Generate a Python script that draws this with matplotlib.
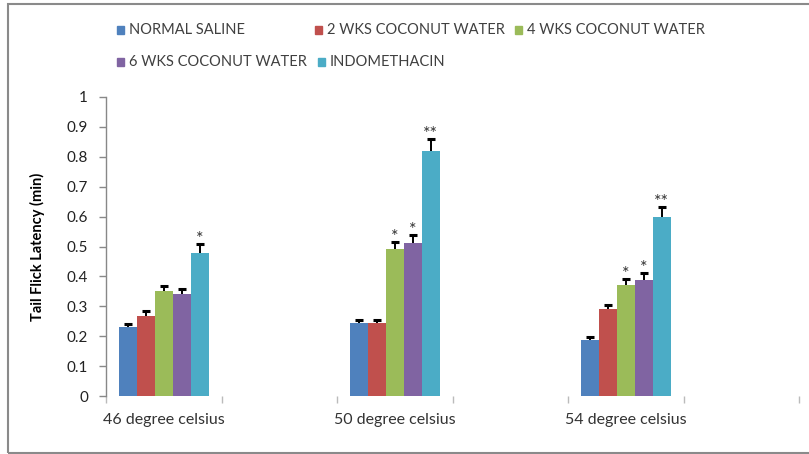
import matplotlib
matplotlib.use("Agg")
import matplotlib.pyplot as plt
from matplotlib.patches import Rectangle
import numpy as np

plt.rcParams['font.family'] = ['Lato', 'DejaVu Sans']

# Six slots on the category axis; only every other one carries a group of bars
categories = ["46 degree celsius", "", "50 degree celsius", "", "54 degree celsius", ""]
group_slots = [0, 2, 4]

series_names = ["NORMAL SALINE", "2 WKS COCONUT WATER", "4 WKS COCONUT WATER",
                "6 WKS COCONUT WATER", "INDOMETHACIN"]
series_colors = ["#4F81BD", "#C0504D", "#9BBB59", "#8064A2", "#4BACC6"]

normal_saline = [0.230, 0.243, 0.187]
wks2_coconut = [0.268, 0.243, 0.290]
wks4_coconut = [0.350, 0.490, 0.370]
wks6_coconut = [0.341, 0.512, 0.388]
indomethacin = [0.478, 0.819, 0.598]

normal_saline_err = [0.010, 0.011, 0.010]
wks2_coconut_err = [0.016, 0.011, 0.014]
wks4_coconut_err = [0.019, 0.025, 0.022]
wks6_coconut_err = [0.016, 0.026, 0.022]
indomethacin_err = [0.029, 0.041, 0.035]

# Significance marks per series and group
normal_saline_sig = ["", "", ""]
wks2_coconut_sig = ["", "", ""]
wks4_coconut_sig = ["", "*", "*"]
wks6_coconut_sig = ["", "*", "*"]
indomethacin_sig = ["*", "**", "**"]

y_ticks = [0, 0.1, 0.2, 0.3, 0.4, 0.5, 0.6, 0.7, 0.8, 0.9, 1]
y_tick_labels = ["0", "0.1", "0.2", "0.3", "0.4", "0.5", "0.6", "0.7", "0.8", "0.9", "1"]

values = [normal_saline, wks2_coconut, wks4_coconut, wks6_coconut, indomethacin]
errors = [normal_saline_err, wks2_coconut_err, wks4_coconut_err, wks6_coconut_err, indomethacin_err]
sigs = [normal_saline_sig, wks2_coconut_sig, wks4_coconut_sig, wks6_coconut_sig, indomethacin_sig]

W, H = 809, 454
fig = plt.figure(figsize=(W / 100, H / 100), dpi=100)
ax = fig.add_axes([106 / W, 1 - 396 / H, (799 - 106) / W, (396 - 97) / H])

bar_w = 0.155
slots = np.array(group_slots, dtype=float)
for i, (vals, errs, marks, color) in enumerate(zip(values, errors, sigs, series_colors)):
    x = slots + (i - 2) * bar_w
    vals = np.array(vals)
    errs = np.array(errs)
    ax.bar(x, vals, width=bar_w, color=color, edgecolor="none", zorder=2)
    # upper-only error bars: stem plus a cap at the top
    ax.vlines(x, vals, vals + errs, colors="black", linewidth=1.4, zorder=3)
    ax.plot(x, vals + errs, linestyle="none", marker="_", markersize=6,
            markeredgewidth=2.2, color="black", zorder=3)
    for xi, v, e, m in zip(x, vals, errs, marks):
        if m:
            ax.annotate(m, (xi, v + e), xytext=(0, -2), textcoords="offset points",
                        ha="center", va="bottom", fontsize=13, color="#333333")

ax.set_xlim(-0.5, 5.5)
ax.set_ylim(0, 1)
ax.set_yticks(y_ticks)
ax.set_yticklabels(y_tick_labels)
ax.set_xticks(np.arange(len(categories)))
ax.set_xticklabels(categories)
ax.set_xticks(np.arange(len(categories) + 1) - 0.5, minor=True)
ax.tick_params(axis="x", which="major", length=0, pad=12, labelsize=11.5, labelcolor="#333333")
ax.tick_params(axis="x", which="minor", length=5, width=1, color="#bbbbbb", direction="out")
ax.tick_params(axis="y", length=5, width=1, color="#888888", pad=8, labelsize=11,
               labelcolor="#222222")

for s in ["top", "right", "bottom"]:
    ax.spines[s].set_visible(False)
ax.spines["left"].set_color("#888888")
ax.spines["left"].set_linewidth(1)

ax.set_ylabel("Tail Flick Latency (min)", fontsize=10.5, fontweight="bold", labelpad=8)
ax.yaxis.set_label_coords(-(106 - 45) / (799 - 106), 0.5)

# Legend laid out in two rows
legend_items = [
    (0, 117, 30), (1, 315, 30), (2, 515, 30),
    (3, 117, 62), (4, 318, 62),
]
for idx, px, py in legend_items:
    fig.patches.append(Rectangle((px / W, 1 - (py + 4) / H), 7 / W, 8 / H,
                                 transform=fig.transFigure, color=series_colors[idx]))
    fig.text((px + 12) / W, 1 - py / H, series_names[idx], fontsize=10.5,
             va="center", ha="left", color="#404040")

# Chart frame
fig.patches.append(Rectangle((8 / W, 1 - 453 / H), (820 - 8) / W, (453 - 4) / H,
                             transform=fig.transFigure, fill=False,
                             edgecolor="#8a8a8a", linewidth=1.5))

fig.savefig("out.png", dpi=100)
